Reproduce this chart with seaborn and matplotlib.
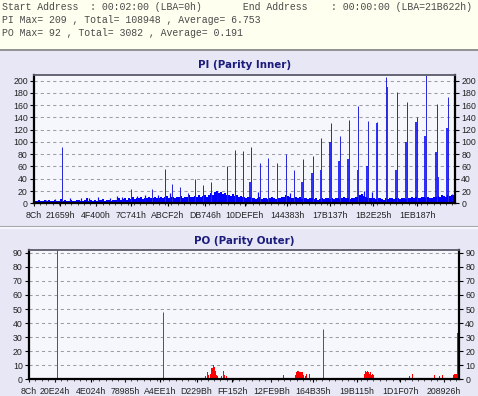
import numpy as np
import pandas as pd
import matplotlib
matplotlib.use("Agg")
import matplotlib.pyplot as plt
import seaborn as sns
from matplotlib.ticker import MultipleLocator
from matplotlib.patches import Rectangle
from matplotlib.lines import Line2D

# ---------------- data ----------------
END_LBA = 0x21B622

header_lines = [
    "Start Address  : 00:02:00 (LBA=0h)       End Address    : 00:00:00 (LBA=21B622h)",
    "PI Max= 209 , Total= 108948 , Average= 6.753",
    "PO Max= 92 , Total= 3082 , Average= 0.191",
]

pi_xlabels = ["8Ch", "21659h", "4F400h", "7C741h", "ABCF2h", "DB746h",
              "10DEFEh", "144383h", "17B137h", "1B2E25h", "1EB187h"]
po_xlabels = ["8Ch", "20E24h", "4E024h", "78985h", "A4EE1h", "D229Bh",
              "FF152h", "12FE9Bh", "164B35h", "19B115h", "1D1F07h", "208926h"]

pi_max = 209
po_max = 92
pi_yticks = [0, 20, 40, 60, 80, 100, 120, 140, 160, 180, 200]
po_yticks = [0, 10, 20, 30, 40, 50, 60, 70, 80, 90]

# PI background error level, evenly sampled over the scanned LBA range
pi_base = [
    4, 3, 5, 4, 3, 6, 4, 5, 3, 4,
    5, 4, 3, 7, 4, 5, 3, 4, 6, 3,
    4, 5, 6, 4, 3, 5, 8, 4, 5, 3,
    5, 4, 6, 5, 7, 4, 5, 6, 4, 5,
    6, 5, 8, 6, 7, 9, 6, 8, 7, 10,
    7, 9, 8, 10, 7, 9, 8, 11, 9, 8,
    10, 8, 9, 11, 8, 10, 12, 9, 10, 11,
    9, 11, 10, 12, 9, 11, 10, 13, 11, 10,
    12, 10, 13, 11, 12, 14, 11, 13, 16, 14,
    18, 20, 17, 19, 15, 16, 14, 13, 12, 15,
    12, 13, 11, 12, 10, 11, 9, 10, 11, 9,
    9, 7, 8, 10, 7, 8, 9, 7, 8, 10,
    8, 7, 9, 8, 10, 11, 13, 12, 10, 8,
    9, 11, 8, 10, 7, 8, 9, 7, 8, 9,
    7, 8, 6, 7, 8, 7, 9, 8, 7, 8,
    7, 8, 9, 7, 8, 10, 9, 8, 7, 8,
    9, 10, 11, 13, 15, 12, 10, 9, 8, 9,
    8, 7, 9, 8, 7, 6, 8, 7, 9, 8,
    7, 8, 9, 7, 8, 9, 7, 8, 9, 10,
    9, 11, 8, 9, 10, 11, 9, 10, 8, 9,
    10, 11, 12, 11, 13, 12, 11, 13, 12, 14,
    13,
]

# PI main spikes (LBA, value)
pi_spike_lba = [148500, 509000, 617700, 685900, 725800, 767700, 808200, 846500, 886900, 927300,
                1012800, 1056400, 1098400, 1140300, 1186000, 1229500, 1275200, 1320900, 1366000, 1413200,
                1462600, 1507700, 1557000, 1604200, 1653100, 1701900, 1751200, 1801600, 1848800, 1903400,
                1955900, 2009900, 2058700, 2114900, 2171000]
pi_spike_val = [92, 23, 23, 56, 31, 26, 17, 39, 29, 34,
                61, 87, 85, 91, 66, 73, 65, 80, 55, 72,
                77, 106, 131, 110, 135, 158, 134, 132, 205, 181,
                165, 141, 209, 162, 173]

# PI companion spikes next to the main ones
pi_comp_lba = [1135100, 1408000, 1457300, 1503500, 1553300, 1600600, 1649400, 1698700, 1746500,
               1798400, 1852500, 1898100, 1950600, 2004700, 2053500, 2109600, 2121700, 2165800]
pi_comp_val = [35, 34, 49, 54, 100, 69, 72, 54, 60,
               131, 190, 54, 100, 133, 110, 83, 43, 122]

# PI small spikes
pi_small_lba = [61400, 110200, 136400, 188900, 245100, 290200, 337400, 398800, 437100, 460200,
                538900, 582500, 652300, 713700, 958800, 1175500, 1343400, 1731800, 1773800, 2193600]
pi_small_val = [6, 7, 6, 8, 9, 8, 11, 9, 12, 10,
                12, 13, 14, 16, 20, 19, 16, 20, 18, 15]

# PO tall spikes
po_spike_lba = [145400, 688500, 1510500]
po_spike_val = [92, 48, 36]

# PO small errors
po_lba = [296500,
          457300, 472700, 488100, 503500, 518900, 539500, 554900, 575400, 596000, 616500, 631900,
          714200, 734700, 760400, 786100, 816900, 842600, 868300,
          909400, 919700, 924800, 935100, 940200, 945400, 950500, 955700, 960800, 971100, 981300,
          991600, 1001900, 1007000, 1017300, 1022400,
          1084100, 1114900, 1135500, 1171500, 1212600, 1248500, 1279400,
          1308600,
          1371800, 1376900, 1382100, 1387200, 1392400, 1397500, 1402600, 1407800, 1412900, 1423200,
          1428300, 1438600, 1443700, 1448900,
          1515700, 1561900, 1587600,
          1726300, 1731500, 1736600, 1741700, 1746900, 1752000, 1757200, 1762300, 1767400, 1772600,
          1937000, 1947300, 1957500, 1967800, 1972900, 1983200,
          2084500, 2096300, 2111700, 2116800, 2127100,
          2173300, 2183600, 2188700, 2193900, 2199000, 2206000]
po_val = [1,
          1, 1, 1, 1, 1, 1, 1, 1, 1, 1, 1,
          1, 1, 1, 1, 1, 1, 1,
          2, 5, 3, 4, 8, 10, 9, 6, 3, 2, 1,
          2, 6, 3, 2, 1,
          1, 1, 1, 1, 1, 1, 1,
          3,
          3, 5, 6, 6, 5, 5, 4, 5, 3, 2,
          4, 1, 4, 1,
          8, 1, 1,
          4, 6, 5, 6, 5, 4, 5, 3, 4, 3,
          1, 1, 2, 1, 4, 1,
          3, 1, 2, 1, 3,
          1, 3, 4, 4, 4, 33]

# ---------------- styling ----------------
sns.set_theme(style="white")
plt.rcParams['font.family'] = ['Liberation Sans', 'DejaVu Sans']

W, H = 478, 396
def fy(y):
    return 1 - y / H

fig = plt.figure(figsize=(W / 100, H / 100), dpi=100)
fig.patch.set_facecolor('#E7E7F6')

fig.add_artist(Rectangle((0, fy(49)), 1, 49 / H, transform=fig.transFigure,
                         facecolor='#FFFFF0', edgecolor='none', zorder=0))
fig.add_artist(Line2D([0, 1], [fy(49.5)] * 2, transform=fig.transFigure, color='#7A7A7A', lw=1.1))
fig.add_artist(Line2D([0, 1], [fy(226.3)] * 2, transform=fig.transFigure, color='#A8A8A8', lw=0.8))
fig.add_artist(Line2D([0, 1], [fy(227.8)] * 2, transform=fig.transFigure, color='#FAFAFF', lw=1.2))

for i, line in enumerate(header_lines):
    fig.text(1.5 / W, fy(6.8 + 12.9 * i), line, family='Liberation Mono', fontsize=7.1,
             va='center', ha='left', color='#4A4A4A')

ax1 = fig.add_axes([34 / W, fy(203.3), 421 / W, 128.3 / H])
ax2 = fig.add_axes([29 / W, fy(379.3), 430 / W, 129.3 / H])

def style_axis(ax, ymax, yticks, xlabels):
    ax.set_facecolor('#F6F6FD')
    ax.set_xlim(0, END_LBA)
    ax.set_ylim(0, ymax)
    ax.set_yticks(yticks)
    ax.set_xticks([int(s[:-1], 16) for s in xlabels])
    ax.set_xticklabels(xlabels)
    ax.xaxis.set_minor_locator(MultipleLocator(0x8000))
    ax.set_axisbelow(True)
    ax.yaxis.grid(True, color='#9C9CA4', linestyle=(0, (3, 3)), lw=0.75)
    ax.xaxis.grid(False)
    ax.tick_params(axis='y', which='major', left=True, right=True, labelleft=True,
                   labelright=True, length=3, width=0.8, pad=1.5, labelsize=6.3,
                   color='black', labelcolor='#222222')
    ax.tick_params(axis='x', which='major', bottom=True, length=2.5, width=0.8,
                   pad=3.2, labelsize=6.3, color='black', labelcolor='#222222')
    ax.tick_params(axis='x', which='minor', bottom=True, length=1.6, width=0.6, color='#333333')
    for s in ['left', 'bottom', 'right']:
        ax.spines[s].set_visible(True)
        ax.spines[s].set_color('black')
        ax.spines[s].set_linewidth(1.6)
    ax.spines['top'].set_visible(True)
    ax.spines['top'].set_color('#5A5A6A')
    ax.spines['top'].set_linewidth(1.3)
    ax.set_xlabel('')
    ax.set_ylabel('')

# PI panel
n = len(pi_base)
bw = END_LBA / n
pi_df = pd.DataFrame({'lba': (np.arange(n) + 0.5) * bw, 'val': pi_base})
sns.histplot(data=pi_df, x='lba', weights='val', binwidth=bw, binrange=(0, END_LBA),
             ax=ax1, color='#0000FF', alpha=1, linewidth=0, element='bars', fill=True)
ax1.vlines(pi_small_lba, 0, pi_small_val, color='#0C0CF4', lw=0.85)
ax1.vlines(pi_comp_lba, 0, pi_comp_val, color='#0000FF', lw=1.15)
ax1.vlines(pi_spike_lba, 0, pi_spike_val, color='#2A2AD8', lw=0.72, snap=True)
style_axis(ax1, pi_max, pi_yticks, pi_xlabels)

# PO panel
pbw = END_LBA / 430
po_df = pd.DataFrame({'lba': po_lba, 'val': po_val})
sns.histplot(data=po_df, x='lba', weights='val', binwidth=pbw,
             binrange=(-pbw / 2, END_LBA - pbw / 2),
             ax=ax2, color='#FF0000', alpha=1, linewidth=0, element='bars', fill=True)
ax2.vlines(po_spike_lba, 0, po_spike_val, color='#D82020', lw=0.72, snap=True)
style_axis(ax2, po_max, po_yticks, po_xlabels)

fig.text(244.5 / W, fy(65.5), "PI (Parity Inner)", family='DejaVu Sans', fontweight='bold',
         fontsize=7.4, color='#1C1C7C', ha='center', va='center')
fig.text(244 / W, fy(240.5), "PO (Parity Outer)", family='DejaVu Sans', fontweight='bold',
         fontsize=7.4, color='#1C1C7C', ha='center', va='center')

fig.savefig('out.png', dpi=100, facecolor=fig.get_facecolor())
